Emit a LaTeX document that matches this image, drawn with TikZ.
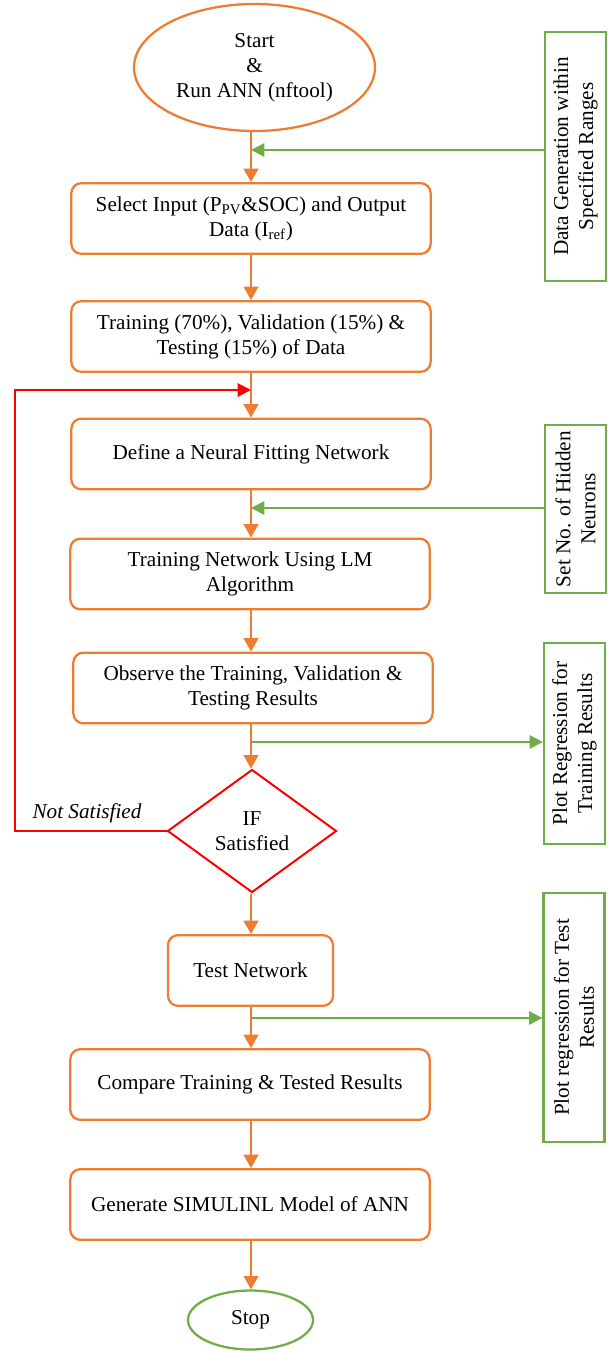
\documentclass[tikz,border=0pt]{standalone}
\usepackage{fontspec}
\setmainfont{Liberation Serif}
\usetikzlibrary{shapes.geometric,arrows.meta}
\definecolor{orng}{HTML}{ED7D31}
\definecolor{grn}{HTML}{70AD47}
\definecolor{rd}{HTML}{FF0000}
\begin{document}
\begin{tikzpicture}[x=0.75pt,y=-0.75pt,
 every node/.style={font=\fontsize{15.9}{18.75}\selectfont, align=center, inner sep=0pt},
 procbox/.style={draw=orng, line width=1.7pt, rounded corners=7.5pt, minimum height=53pt, minimum width=269.5pt, fill=white},
 termnode/.style={ellipse, line width=1.7pt, fill=white},
 sidebox/.style={draw=grn, line width=1.7pt, rotate=90, minimum height=45.75pt, fill=white},
 oarrow/.style={draw=orng, line width=1.5pt, -{Triangle[length=10pt,width=11pt]}},
 garrow/.style={draw=grn, line width=1.5pt, -{Triangle[length=10pt,width=10pt]}},
 rarrow/.style={draw=rd, line width=1.5pt, -{Triangle[length=10pt,width=10pt]}},
]
\useasboundingbox (0,0) rectangle (607,1352);

% main flow nodes
\node[termnode, draw=orng, minimum width=180.75pt, minimum height=95.25pt] (start) at (254.5,67.5) {Start\\\&\\Run ANN (nftool)};
\node[procbox] (sel) at (251,218.5) {Select Input (P\textsubscript{PV}\&SOC) and Output\\Data (I\textsubscript{ref})};
\node[procbox] (trn) at (251,336.5) {Training (70\%), Validation (15\%) \&\\Testing (15\%) of Data};
\node[procbox] (def) at (251,454) {Define a Neural Fitting Network};
\node[procbox] (tnet) at (250,574) {Training Network Using LM\\Algorithm};
\node[procbox] (obs) at (253,688) {Observe the Training, Validation \&\\Testing Results};
\node[diamond, draw=rd, line width=1.5pt, aspect=1.37, minimum width=126.75pt, minimum height=92.25pt, fill=white] (dia) at (252,831) {IF\\Satisfied};
\node[procbox, minimum width=123.75pt] (test) at (250.5,970.5) {Test Network};
\node[procbox] (cmp) at (250,1084.5) {Compare Training \& Tested Results};
\node[procbox] (gen) at (250,1204.5) {Generate SIMULINL Model of ANN};
\node[termnode, draw=grn, minimum width=93.75pt, minimum height=44.25pt] (stop) at (250.5,1320) {Stop};

% side boxes
\node[sidebox, minimum width=186.75pt] (dg) at (575.5,156.5) {Data Generation within\\Specified Ranges};
\node[sidebox, minimum width=126pt] (sn) at (575.5,509) {Set No. of Hidden\\Neurons};
\node[sidebox, minimum width=150.75pt] (pr1) at (574.5,743.5) {Plot Regression for\\Training Results};
\node[sidebox, minimum width=186.75pt] (pr2) at (574,1017.5) {Plot regression for Test\\Results};

% label
\node[font=\fontsize{15.9}{18.75}\selectfont\itshape] (ns) at (87,813) {Not Satisfied};

% junction coordinates on main line
\coordinate (j1) at (251,150);
\coordinate (j3) at (251,390);
\coordinate (j2) at (251,508);
\coordinate (j4) at (251,742);
\coordinate (j5) at (251,1018);
\coordinate (r1) at (15,390);

% orange flow
\draw[oarrow] (start.south -| sel.north) -- (sel.north);
\draw[oarrow] (sel.south) -- (trn.north);
\draw[oarrow] (trn.south) -- (def.north);
\draw[oarrow] (def.south) -- (tnet.north -| def.south);
\draw[oarrow] (tnet.south -| j4) -- (obs.north -| j4);
\draw[oarrow] (obs.south -| j4) -- (dia.north -| j4);
\draw[oarrow] (dia.south -| j5) -- (test.north -| j5);
\draw[oarrow] (test.south -| j5) -- (cmp.north -| j5);
\draw[oarrow] (cmp.south -| j5) -- (gen.north -| j5);
\draw[oarrow] (gen.south -| j5) -- (stop.north -| j5);

% green side arrows
\draw[garrow] (dg.north |- j1) -- (j1);
\draw[garrow] (sn.north |- j2) -- (j2);
\draw[garrow] (j4) -- (pr1.north |- j4);
\draw[garrow] (j5) -- (pr2.north |- j5);

% red loop
\draw[rarrow] (dia.west) -| (r1) -- (j3);
\end{tikzpicture}
\end{document}
